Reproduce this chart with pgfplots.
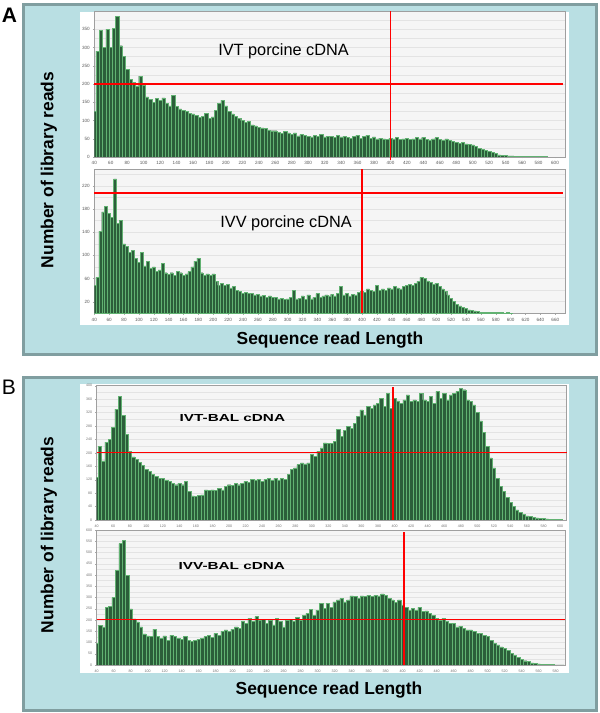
\documentclass[border=0pt]{standalone}
\usepackage{pgfplots}
\pgfplotsset{compat=1.18}
\usepackage{graphicx}
\usepackage{fontspec}
\setmainfont{Liberation Sans}
\definecolor{panelbg}{RGB}{185,223,227}
\definecolor{panelborder}{RGB}{128,158,160}
\definecolor{barfill}{RGB}{44,94,58}
\definecolor{baredge}{RGB}{98,178,114}
\definecolor{plotbg}{RGB}{245,245,245}
\definecolor{refred}{RGB}{255,0,0}
\pgfplotsset{
  hist/.style={
    scale only axis, axis background/.style={fill=plotbg},
    axis line style={gray!75, line width=0.6pt},
    ymajorgrids, yminorgrids, grid style={gray!22, line width=0.5pt},
    minor grid style={gray!22, line width=0.5pt},
    tick label style={font=\fontsize{4.6}{5}\selectfont, text=black!65},
    /pgf/number format/assume math mode=true,
    /pgf/number format/1000 sep={},
    major tick length=1.5pt, minor tick length=0pt, tick style={gray!70},
    xtick pos=bottom, ytick pos=left, tick align=outside,
    xticklabel style={yshift=0.5pt}, yticklabel style={xshift=0.5pt},
    ymin=0, anchor=south west,
  },
  bars/.style={ybar, bar width=4, fill=barfill, draw=baredge, line width=0.45pt},
}
\begin{document}
\begin{tikzpicture}[x=1pt,y=1pt]
\useasboundingbox (0,0) rectangle (600,713);
% panels
\draw[line width=3pt, draw=panelborder, fill=panelbg] (23.5,358.5) rectangle (596.5,708.5);
\draw[line width=3pt, draw=panelborder, fill=panelbg] (23.5,2.5) rectangle (596.5,335.5);
\fill[white] (80,388) rectangle (569,701);
\fill[white] (80,40) rectangle (569,329);
\node[font=\bfseries\fontsize{21}{24}\selectfont] at (9.5,697.5) {A};
\node[font=\fontsize{21}{24}\selectfont] at (9,325.5) {B};
\node[rotate=90, font=\bfseries\fontsize{17.4}{20}\selectfont] at (49,543) {Number of library reads};
\node[rotate=90, font=\bfseries\fontsize{17.4}{20}\selectfont] at (49,178) {Number of library reads};
\node[font=\bfseries\fontsize{17.4}{20}\selectfont] at (330,373) {Sequence read Length};
\node[font=\bfseries\fontsize{17.4}{20}\selectfont] at (329,23) {Sequence read Length};
\coordinate (pA1) at (94.3,556);
\coordinate (pA2) at (94.3,399.7);
\coordinate (pB1) at (96.7,193);
\coordinate (pB2) at (96.7,48);

% ---------------- A top: IVT porcine cDNA
\begin{axis}[hist, at={(pA1)}, width=471.4pt, height=145.9pt,
  xmin=40, xmax=613, ymax=400, xtick={40,60,...,600}, ytick={0,50,...,350}, minor ytick={25,75,...,375}]
\addplot[bars] table {
x y
40 125
44 290
48 348
52 300
56 350
60 300
64 352
68 385
72 305
76 275
80 240
84 212
88 205
92 195
96 222
100 198
104 165
108 158
112 150
116 160
120 155
124 162
128 148
132 140
136 168
140 138
144 132
148 128
152 125
156 120
160 118
164 115
168 108
172 112
176 120
180 106
184 110
188 128
192 148
196 156
200 140
204 125
208 118
212 112
216 105
220 100
224 95
228 98
232 88
236 85
240 82
244 80
248 78
252 74
256 72
260 72
264 68
268 64
272 70
276 66
280 62
284 66
288 58
292 62
296 60
300 57
304 55
308 60
312 56
316 62
320 55
324 57
328 56
332 54
336 60
340 55
344 56
348 53
352 52
356 56
360 60
364 52
368 56
372 60
376 52
380 55
384 50
388 52
392 50
396 48
400 52
404 50
408 53
412 48
416 50
420 52
424 48
428 50
432 53
436 50
440 54
444 48
448 46
452 50
456 53
460 48
464 46
468 50
472 45
476 42
480 40
484 38
488 40
492 36
496 34
500 33
504 30
508 24
512 20
516 18
520 15
524 12
528 9
532 6
536 5
540 4
544 3
548 3
552 2
556 2
560 2
564 1
568 2
572 1
576 2
580 1
584 2
588 1
};
\coordinate (a1h1) at (axis cs:40,200);
\coordinate (a1h2) at (axis cs:610,200);
\coordinate (a1v1) at (axis cs:400,0);
\coordinate (a1v2) at (axis cs:400,400);
\coordinate (a1t) at (axis cs:270,291);
\end{axis}
\draw[refred, line width=1.8pt] (a1h1) -- (a1h2);
\draw[refred, line width=1.8pt] ([yshift=-3pt]a1v1) -- (a1v2);
\node[font=\fontsize{16.3}{18}\selectfont] at (a1t) {IVT porcine cDNA};

% ---------------- A bottom: IVV porcine cDNA
\begin{axis}[hist, at={(pA2)}, width=471.4pt, height=144.3pt,
  xmin=40, xmax=674, ymax=249, xtick={40,60,...,660}, ytick={20,60,...,220}, minor ytick={40,80,...,240}]
\addplot[bars] table {
x y
40 48
44 62
48 142
52 175
56 185
60 172
64 165
68 232
72 155
76 160
80 120
84 115
88 105
92 108
96 95
100 88
104 105
108 82
112 90
116 78
120 80
124 72
128 75
132 86
136 70
140 67
144 70
148 66
152 72
156 70
160 66
164 68
168 72
172 80
176 90
180 95
184 70
188 66
192 68
196 66
200 68
204 55
208 48
212 52
216 48
220 50
224 44
228 46
232 40
236 38
240 34
244 36
248 35
252 34
256 32
260 33
264 30
268 31
272 28
276 30
280 27
284 28
288 25
292 26
296 24
300 25
304 28
308 40
312 25
316 26
320 30
324 24
328 32
332 25
336 28
340 34
344 28
348 30
352 32
356 30
360 33
364 30
368 34
372 46
376 32
380 34
384 30
388 33
392 32
396 36
400 38
404 36
408 42
412 40
416 38
420 48
424 40
428 42
432 40
436 44
440 42
444 46
448 44
452 42
456 46
460 48
464 50
468 48
472 52
476 55
480 62
484 60
488 56
492 54
496 50
500 52
504 46
508 42
512 38
516 32
520 26
524 20
528 16
532 13
536 10
540 8
544 6
548 5
552 4
556 3
560 2
564 2
568 1
572 2
576 1
580 1
584 1
588 1
592 0.5
596 1
600 0.5
};
\coordinate (a2h1) at (axis cs:40,208);
\coordinate (a2h2) at (axis cs:670,208);
\coordinate (a2v1) at (axis cs:400,0);
\coordinate (a2v2) at (axis cs:400,249);
\coordinate (a2t) at (axis cs:298,155);
\end{axis}
\draw[refred, line width=1.8pt] (a2h1) -- (a2h2);
\draw[refred, line width=1.8pt] (a2v1) -- (a2v2);
\node[font=\fontsize{16.3}{18}\selectfont] at (a2t) {IVV porcine cDNA};

% ---------------- B top: IVT-BAL cDNA
\begin{axis}[hist, at={(pB1)}, width=470pt, height=134.3pt,
  xmin=40, xmax=608, ymax=400, xtick={40,60,...,600}, ytick={0,40,...,400}, minor ytick={20,60,...,380},
  tick label style={font=\fontsize{3.6}{4}\selectfont, text=black!55}]
\addplot[bars] table {
x y
40 127
44 220
48 176
52 232
56 240
60 275
64 330
68 368
72 312
76 255
80 205
84 188
88 180
92 172
96 162
100 150
104 145
108 135
112 130
116 125
120 123
124 117
128 115
132 110
136 105
140 110
144 105
148 115
152 85
156 72
160 70
164 73
168 75
172 90
176 88
180 90
184 88
188 95
192 90
196 100
200 105
204 103
208 110
212 105
216 110
220 115
224 112
228 120
232 117
236 120
240 115
244 120
248 123
252 117
256 125
260 117
264 125
268 120
272 135
276 150
280 155
284 165
288 170
292 167
296 170
300 195
304 190
308 205
312 215
316 230
320 228
324 229
328 235
332 270
336 249
340 268
344 278
348 273
352 288
356 308
360 328
364 313
368 338
372 333
376 343
380 348
384 363
388 338
392 378
396 333
400 363
404 355
408 348
412 358
416 373
420 353
424 358
428 353
432 378
436 358
440 353
444 368
448 348
452 383
456 363
460 378
464 358
468 373
472 378
476 383
480 391
484 388
488 358
492 353
496 343
500 320
504 295
508 260
512 220
516 185
520 155
524 125
528 100
532 85
536 68
540 52
544 40
548 30
552 22
556 17
560 12
564 10
568 8
572 6
576 5
580 4
584 3
588 2
592 2
596 1
600 1
};
\coordinate (b1h1) at (axis cs:40,200);
\coordinate (b1h2) at (axis cs:608,200);
\coordinate (b1v1) at (axis cs:398,0);
\coordinate (b1v2) at (axis cs:398,395);
\coordinate (b1t) at (axis cs:204,303);
\end{axis}
\draw[refred, line width=1.2pt] (b1h1) -- (b1h2);
\draw[refred, line width=1.8pt] (b1v1) -- (b1v2);
\node[font=\bfseries\fontsize{10.2}{12}\selectfont] at (b1t) {\scalebox{1.5}[1]{IVT-BAL cDNA}};

% ---------------- B bottom: IVV-BAL cDNA
\begin{axis}[hist, at={(pB2)}, width=468.3pt, height=135pt,
  xmin=40, xmax=591, ymax=600, xtick={40,60,...,580}, ytick={0,50,...,600}, minor ytick={25,75,...,575},
  tick label style={font=\fontsize{3.6}{4}\selectfont, text=black!55}]
\addplot[bars] table {
x y
40 96
44 175
48 170
52 255
56 260
60 300
64 420
68 540
72 555
76 400
80 250
84 205
88 192
92 170
96 138
100 130
104 126
108 160
112 126
116 119
120 129
124 111
128 133
132 126
136 119
140 114
144 126
148 111
152 104
156 111
160 114
164 119
168 126
172 133
176 123
180 141
184 133
188 148
192 156
196 148
200 159
204 170
208 163
212 193
216 185
220 207
224 193
228 215
232 200
236 203
240 185
244 200
248 178
252 207
256 193
260 170
264 200
268 203
272 193
276 212
280 200
284 222
288 230
292 247
296 222
300 244
304 274
308 252
312 274
316 256
320 281
324 289
328 296
332 281
336 289
340 307
344 304
348 296
352 307
356 304
360 311
364 304
368 311
372 307
376 316
380 311
384 296
388 289
392 277
396 289
400 267
404 256
408 244
412 252
416 244
420 256
424 237
428 241
432 230
436 222
440 207
444 200
448 207
452 193
456 185
460 185
464 170
468 173
472 163
476 156
480 156
484 148
488 141
492 141
496 133
500 126
504 111
508 96
512 89
516 81
520 74
524 64
528 52
532 44
536 34
540 25
544 19
548 15
552 10
556 7
560 5
564 4
568 3
572 2
576 2
580 1
584 1
588 1
};
\coordinate (b2h1) at (axis cs:40,203);
\coordinate (b2h2) at (axis cs:591,203);
\coordinate (b2v1) at (axis cs:402,0);
\coordinate (b2v2) at (axis cs:402,590);
\coordinate (b2t) at (axis cs:199,440);
\end{axis}
\draw[refred, line width=1.2pt] (b2h1) -- (b2h2);
\draw[refred, line width=1.8pt] (b2v1) -- (b2v2);
\node[font=\bfseries\fontsize{10.2}{12}\selectfont] at (b2t) {\scalebox{1.5}[1]{IVV-BAL cDNA}};
\end{tikzpicture}
\end{document}
